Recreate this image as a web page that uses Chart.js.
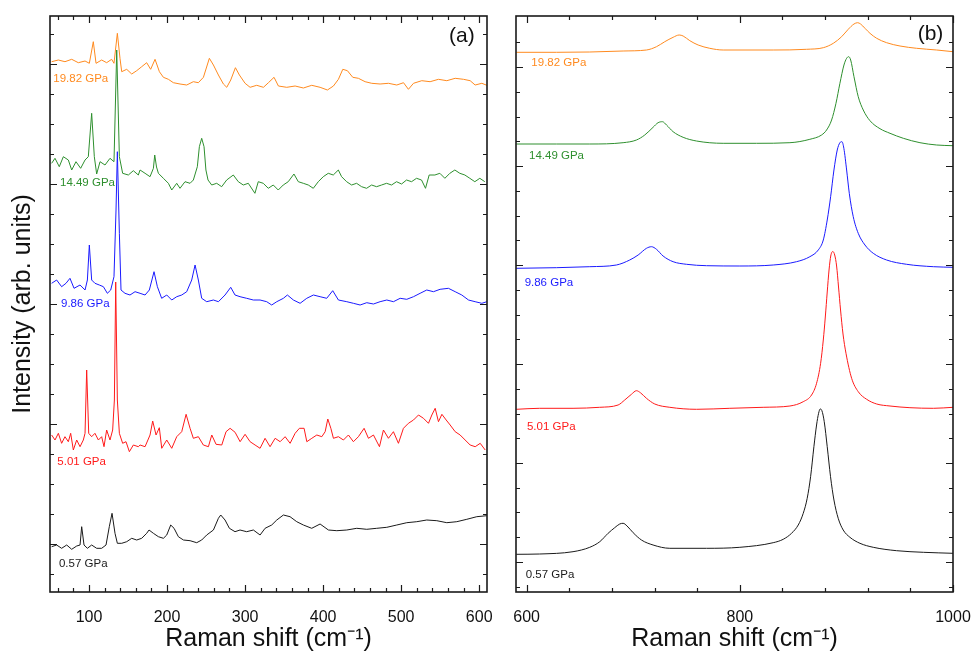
<!DOCTYPE html>
<html>
<head>
<meta charset="utf-8">
<script src="https://cdn.jsdelivr.net/npm/chart.js@4.4.1/dist/chart.umd.min.js"></script>
<style>
  html, body { margin: 0; padding: 0; background: #fff; }
  #wrap { position: relative; width: 974px; height: 655px; }
  canvas { position: absolute; top: 0; }
  #panelA { left: 0; }
  #panelB { left: 490px; }
</style>
</head>
<body>
<div id="wrap">
  <canvas id="panelB" width="484" height="655"></canvas>
  <canvas id="panelA" width="494" height="655"></canvas>
</div>
<script>
// pressures and colours, bottom to top
const pressures = ["0.57 GPa", "5.01 GPa", "9.86 GPa", "14.49 GPa", "19.82 GPa"];
const colors = ["#1a1a1a", "#ff1a1a", "#1a1aff", "#2e8f2e", "#ff8a1f"];

// panel (a): low-frequency region, [Raman shift, stacked intensity]
const a057 = [[52.1,45.3],[58.5,47],[64.9,43.7],[71.4,47],[77.8,42.7],[84.2,46],[88.5,47],[90.6,65.3],[93.6,47],[97.9,43.7],[103.4,47],[109.8,43.7],[116.2,43.7],[121.8,47],[126,65.3],[129.5,78.7],[133.3,58.7],[136.3,48.7],[141.9,48.7],[148.3,50.3],[154.7,53.7],[161.1,52],[167.5,53.7],[173.9,58.7],[176.9,62],[182.5,58.7],[188.9,55.3],[195.3,53.7],[199.6,57],[204.7,67],[209,63.7],[214.5,55.3],[221,52],[229.5,51.3],[238,49.3],[244.4,52],[250.8,57],[259.4,62],[265.8,73.7],[268.8,77],[274.3,72],[279.9,63.7],[287.1,60.3],[293.5,62],[302,60.3],[310.6,62],[319.2,57],[325.6,63.7],[334.1,67],[340.6,72],[349.1,77],[357.6,75.3],[366.2,70.3],[374.7,67],[385.4,63.7],[396.1,68],[406.8,62],[417.5,61.3],[430.3,62],[443.1,63.7],[455.9,62.7],[468.7,63.7],[481.6,64.7],[494.4,67],[507.2,69.3],[520,70.3],[532.8,72],[545.7,71.3],[558.5,69.3],[571.3,70.3],[584.1,72.7],[596.9,75.3],[609.8,76.3]];
const a501 = [[52.1,157],[56.4,152],[60.7,158.7],[64.9,148.7],[69.2,155.3],[73.5,150.3],[76.5,158.7],[79.9,142],[84.2,152],[88.5,145.3],[92.7,152],[94.9,158.7],[97,222],[99.6,158.7],[103.4,155.3],[107.6,158.7],[112,152],[116.2,155.3],[119.2,145.3],[122.6,162],[126.9,152],[130.3,162],[132.5,192],[134.2,310],[136.3,192],[138.9,158.7],[143.1,148.7],[147.4,150.3],[151.7,140.3],[156.8,147],[163.2,145.3],[165.4,147],[171.8,145.3],[178.2,157],[181.6,171],[185.9,157],[190.1,164.3],[193.2,143.7],[199.6,152],[206,143.7],[212.4,155.3],[218.8,160.3],[224.4,177.7],[229.5,163.7],[233.7,153.7],[240.1,155.3],[246.5,147],[253,145.3],[257.3,157],[262.8,147.7],[270.1,147],[275.6,160.3],[280.8,163.7],[287.2,159.7],[293.6,150.3],[300,157.7],[306.4,150.3],[312.8,147],[319.2,143.7],[325.6,153.7],[332,145.3],[338.5,153.7],[344.9,150.3],[351.3,155.3],[357.7,148.7],[364.1,158.7],[369.6,163.7],[375.6,163.7],[379.1,150.3],[385.5,153.7],[391.9,157],[398.3,155.3],[402.6,160.3],[406,173],[409.9,163.7],[413.2,153.7],[419.6,155.3],[426,152],[432.4,157],[438.8,150.3],[445.2,155.3],[452.5,163.7],[458.1,153.7],[464.5,157],[472.2,145.3],[477.3,162],[483.7,153.7],[490.1,160.3],[496.5,148.7],[502.9,163.7],[509.3,168.7],[515.8,172],[522.2,177],[528.6,173.7],[535,168.7],[539.3,177],[543.6,183.7],[547.8,170.3],[552.2,177.7],[557.7,172],[562.8,167],[569.2,160.3],[575.6,157],[582,152],[588.4,147],[594.9,145.3],[601.3,148.7],[607.7,142]];
const a986 = [[52.1,308.7],[58.5,312],[64.9,305.3],[70.5,308.7],[75.6,313.7],[80.8,303.7],[88.5,307],[94.9,302],[97.9,312],[100.4,347],[103.4,312],[107.6,308.7],[113.2,307],[118.4,305.3],[123.5,298.7],[127.8,302],[132,315.3],[134.6,382],[136.3,440.3],[138.9,358.7],[141,302],[146.1,298.7],[152.5,297],[159,300.3],[165.4,298.7],[171.8,297],[177.3,302],[183.3,320.3],[187.6,305.3],[193.1,293.7],[199.6,297],[206,292],[212.4,295.3],[218.8,297],[225.2,300.3],[231.6,312],[235.9,327],[240.1,312],[244.4,293.7],[250.8,290.3],[259.4,292],[265.8,290.3],[274.3,297],[281.6,304.7],[287.1,297],[293.5,295.3],[302,293.7],[310.6,292],[319.2,292],[327.7,290.3],[334.1,287],[340.6,290.3],[349.1,293.7],[354.2,297],[361.9,292],[370.5,288.7],[379,293.7],[387.6,297],[396.1,295.3],[404.6,293.7],[412.3,301.3],[419.6,292],[430.3,290.3],[438.8,288.7],[447.4,287],[455.9,289.3],[464.5,288],[473,290.3],[481.6,292],[490.1,290.3],[498.7,293.7],[507.2,292.7],[515.8,295.3],[524.3,298.7],[532.8,302],[541.4,300.3],[549.9,302.7],[560.6,303.7],[569.2,300.3],[577.7,297],[586.3,292],[594.8,290.3],[603.4,288.7],[609.8,290.3]];
const a1449 = [[52.1,428.7],[56.4,433.7],[61.9,425.3],[67.1,435.3],[73.5,432],[77.8,422],[83.3,430.3],[89.3,423.7],[94.9,432],[99.1,435.3],[103.4,478.7],[106.8,435.3],[109.8,418],[114.1,430.3],[120.5,427],[126.9,433.7],[132,430.3],[135.5,542],[138.9,435.3],[143.1,418.7],[150.4,417],[156.8,421.3],[163.2,417],[165.4,422],[171.8,418.7],[178.2,415.3],[182.5,423.7],[184.2,437],[186.5,425],[188.9,418.7],[195.3,413.7],[201.7,408.7],[206,402],[212.4,408.7],[216.6,403.7],[223,410.3],[229.5,408.7],[233.7,412],[238.8,425.3],[241.4,445.3],[244.4,453.7],[247.4,445.3],[249.8,422],[252.5,412],[257.2,407],[263.6,408.7],[270,405.3],[276.4,412],[284.9,417],[291.3,410.3],[297.7,407],[304.1,408.7],[312.6,398.7],[316.9,410.3],[323.3,408.7],[329.7,403.7],[336.1,407],[342.5,402],[348.9,407],[355.3,410.3],[362.6,418],[368.2,410.3],[374.6,408.7],[381,407],[387.4,403.7],[393.8,410.3],[400.2,415.3],[406.6,418.7],[413,417],[419.5,422],[423.7,415.3],[430.1,410.3],[436.5,407],[442.9,408.7],[449.3,405.3],[455.7,403.7],[462.1,407],[468.5,405.3],[474.9,407],[481.3,408.7],[487.7,407],[494.1,410.3],[500.5,408],[506.9,412],[513.3,410.3],[519.7,413.7],[526.1,412],[531.2,403.7],[535.9,417],[543.2,417],[549.6,418.7],[556,413.7],[562.4,418.7],[568.8,422],[575.2,418.7],[581.6,417],[588,413.7],[594.4,410.3],[600.8,413.7],[607.2,410.3]];
const a1982 = [[52.1,530.3],[60.7,532],[69.2,530.3],[77.8,532.7],[86.3,529.3],[94.9,531],[100.4,528.7],[105.5,550.3],[109,528.7],[116.2,532],[122.6,529.3],[129,532.7],[132,528.7],[136.3,558.7],[139.7,533.7],[141.9,520.3],[148.3,522.7],[154.7,518],[161.1,521.3],[167.5,525.3],[173.9,529.3],[179,522.7],[184.6,532.7],[190.2,520.3],[195.3,514.7],[201.7,512.7],[208.1,509.3],[216.6,508],[225.2,507],[233.7,510.3],[240.1,509.3],[246.6,514.7],[254.2,533.7],[259.4,527],[265.8,517],[272.2,508],[276.5,504.7],[281.6,512],[287.6,524.3],[292.7,517],[300,508.7],[306.4,504.7],[314.9,506.7],[323.5,504.7],[329.9,509.3],[337.1,514.7],[342.7,506],[353.4,504.7],[364.1,506],[374.7,504],[385.4,506.7],[396.1,504.7],[405.5,502],[413.2,506],[419.6,512.7],[425.2,522.7],[431.1,521.3],[438,514.7],[445.2,513.7],[453.8,510.3],[462.3,508.7],[473,508],[483.7,508.7],[494.4,507],[503,509.3],[509.3,502.7],[515.8,508.7],[526.4,511.3],[537.1,510.3],[547.8,512.7],[558.5,511.3],[569.2,513.7],[579.9,512.7],[588.4,511.3],[594.8,507],[603.4,508.7],[609.8,506.7]];

// panel (b): high-frequency region
const b057 = [[590.3,37.7],[612.2,38],[643.5,40.3],[659.2,44.7],[668.6,50.3],[676.4,58.7],[682.6,64.3],[687.3,68],[690.5,68.7],[694.2,66],[699.9,59.3],[707.7,52],[718.6,47],[734.3,43.7],[768.7,43.7],[800,44.7],[831.3,49.3],[840.7,52.7],[848.5,58.7],[854.8,67],[859.5,78.7],[863.2,93.7],[866.4,115.3],[869.5,145.3],[872,167],[873.9,178.7],[875.4,183],[877,181.3],[879.2,170.3],[882,145.3],[885.1,115.3],[888.3,92],[892.3,73.7],[897,62],[903.3,54.7],[912.7,48.7],[925.2,44.7],[947.1,41.3],[972.2,39.7],[1000,38.7]];
const b501 = [[590.3,182.7],[612.2,183.7],[643.5,183.7],[668.5,184.7],[685.8,187],[692,192],[698.3,197.7],[703,201.3],[706.7,199.3],[712.4,193.7],[720.2,188],[734.3,184.7],[759.3,182.7],[790.6,183.7],[821.9,184.7],[847,186],[859.5,190.3],[867.3,197],[872,208.7],[875.8,228.7],[878.3,252],[880.2,275],[882,300],[883.7,322],[885.3,336],[887.2,340.5],[889,337],[890.8,326],[892.6,305],[894.5,282],[896.8,258],[899.6,238.7],[904.9,213.7],[911.1,200.3],[919,192.7],[928.4,188],[940.9,186],[959.6,184.3],[981.6,183.7],[1000,184.7]];
const b986 = [[590.3,323.7],[627.9,324.3],[659.2,325.3],[684.2,327],[696.7,332],[704.6,337],[712.4,343.7],[717.1,345.3],[721.8,342.7],[728,336],[737.4,330.3],[750,327.7],[768.7,326.3],[800,326],[831.3,327],[853.2,330.3],[865.7,335.3],[873.6,342],[878.3,352],[882,372],[885.2,395.3],[888.3,422],[891.4,442],[893.9,449.3],[895.8,450.3],[897.6,443.7],[900.2,422],[902.7,398.7],[906.4,375.3],[911.1,358.7],[917.4,347],[925.2,338.7],[937.7,332],[956.5,327.7],[981.6,325.3],[1000,324.7]];
const b1449 = [[590.3,448],[627.9,448],[659.2,448],[690.5,449.3],[703,452],[710.8,457],[718.6,464.7],[723.3,469.3],[727.4,470.3],[731.2,467],[737.4,460.3],[746.8,454.7],[759.3,451],[784.4,448.7],[815.7,448.7],[847,449.3],[865.7,452.7],[876.7,457],[881.4,462],[886.1,472],[890.2,488.7],[893.9,508.7],[897.7,527],[900.2,533.7],[902.1,535.3],[904,532],[907.1,515.3],[911.1,495.3],[915.8,482],[922.1,471.3],[931.5,463.3],[940.9,458.7],[953.4,453.7],[969,449.3],[984.7,447],[1000,446.3]];
const b1982 = [[590.3,539.7],[627.9,539.7],[659.2,540],[690.5,541],[712.4,542],[721.8,545.3],[729.6,550.3],[737.4,554.7],[743.1,557],[746.8,556],[753.1,551.3],[760.9,547],[771.8,543.7],[784.4,542],[831.3,542],[862.6,542.7],[878.3,544.3],[887.7,548.7],[895.5,555.3],[901.7,562.7],[907.1,568],[910.5,569.3],[913.3,568],[917.4,563.7],[922.1,558.7],[928.4,553.7],[937.7,549.3],[950.3,546],[965.9,543.7],[984.7,542],[1000,540.3]];

// tick labels
const xTicksA = [100, 200, 300, 400, 500, 600];
const xTicksB = [600, 800, 1000];

// label anchors (data coords of the left end of each pressure label)
const labelPosA = [[61.5,27.7],[59.4,130.3],[64.1,288],[62.8,408.7],[54.2,512.7]];
const labelPosB = [[599.1,17],[600.3,165.3],[598.1,309.3],[602.2,436],[604.4,528.7]];

const FONT = "'Liberation Sans', Arial, sans-serif";
Chart.defaults.font.family = FONT;
Chart.defaults.color = "#111";

function range(start, stop, step) {
  const out = [];
  for (let v = start; v <= stop + 1e-6; v += step) out.push(+v.toFixed(3));
  return out;
}

// inward ticks on all four sides + frame
const frameTicks = {
  id: "frameTicks",
  afterDraw(chart, args, o) {
    const { ctx, chartArea: a, scales: { x, y } } = chart;
    ctx.save();
    ctx.strokeStyle = "#1a1a1a";
    ctx.lineWidth = 1.2;
    ctx.beginPath();
    o.xMinor.forEach((v) => {
      const p = Math.round(x.getPixelForValue(v)) + 0.5;
      const len = o.xMajor.includes(v) ? 7 : 4;
      ctx.moveTo(p, a.bottom); ctx.lineTo(p, a.bottom - len);
      ctx.moveTo(p, a.top); ctx.lineTo(p, a.top + len);
    });
    o.yMinor.forEach((v, i) => {
      const p = Math.round(y.getPixelForValue(v)) + 0.5;
      const len = i % 4 === 1 ? 7 : 4;
      ctx.moveTo(a.left, p); ctx.lineTo(a.left + len, p);
      ctx.moveTo(a.right, p); ctx.lineTo(a.right - len, p);
    });
    ctx.stroke();
    ctx.lineWidth = 1.6;
    ctx.strokeRect(a.left, a.top, a.right - a.left, a.bottom - a.top);
    ctx.restore();
  },
};

// pressure labels and panel letter
const seriesLabels = {
  id: "seriesLabels",
  afterDatasetsDraw(chart, args, o) {
    const { ctx, scales: { x, y } } = chart;
    ctx.save();
    ctx.textBaseline = "middle";
    ctx.textAlign = "left";
    ctx.font = "11.5px " + FONT;
    o.pos.forEach((p, i) => {
      ctx.fillStyle = colors[i];
      ctx.fillText(pressures[i], x.getPixelForValue(p[0]), y.getPixelForValue(p[1]));
    });
    ctx.fillStyle = "#111";
    ctx.textAlign = "center";
    ctx.font = "21px " + FONT;
    ctx.fillText(o.letter[0], x.getPixelForValue(o.letter[1]), y.getPixelForValue(o.letter[2]));
    ctx.restore();
  },
};

function makePanel(id, series, cfg) {
  new Chart(document.getElementById(id), {
    type: "line",
    data: {
      datasets: series.map((s, i) => ({
        label: pressures[i],
        data: s.map(([x, y]) => ({ x, y })),
        borderColor: colors[i],
        borderWidth: 1,
        pointRadius: 0,
        tension: 0,
        cubicInterpolationMode: cfg.smooth ? "monotone" : "default",
        fill: false,
      })),
    },
    options: {
      responsive: false,
      animation: false,
      devicePixelRatio: 1,
      layout: { padding: cfg.padding },
      plugins: {
        legend: { display: false },
        tooltip: { enabled: false },
        frameTicks: cfg.ticks,
        seriesLabels: { pos: cfg.labelPos, letter: cfg.letter },
      },
      scales: {
        x: {
          type: "linear",
          min: cfg.xMin,
          max: cfg.xMax,
          grid: { display: false },
          border: { display: false },
          afterBuildTicks: (s) => { s.ticks = cfg.xTicks.map((v) => ({ value: v })); },
          afterFit: (s) => { s.height = 63; s.paddingLeft = 0; s.paddingRight = 0; },
          ticks: {
            font: { size: 16 }, padding: 8, maxRotation: 0, autoSkip: false, color: "#111",
            callback: (v) => String(v),
          },
          title: {
            display: true,
            text: "Raman shift (cm\u207B\u00B9)",
            font: { size: 25 },
            color: "#111",
            padding: { top: 0, bottom: 1 },
          },
        },
        y: {
          min: 0,
          max: 576,
          grid: { display: false },
          border: { display: false },
          ticks: { display: false },
          afterFit: (s) => { s.width = cfg.yWidth; s.paddingTop = 0; s.paddingBottom = 0; },
          title: {
            display: cfg.yTitle,
            text: "Intensity (arb. units)",
            font: { size: 25 },
            color: "#111",
            padding: { top: 8, bottom: 0 },
          },
        },
      },
    },
    plugins: [frameTicks, seriesLabels],
  });
}

makePanel("panelA", [a057, a501, a986, a1449, a1982], {
  padding: { top: 16, right: 7, left: 0, bottom: 0 },
  xMin: 50, xMax: 610, xTicks: xTicksA, yWidth: 50, yTitle: true, smooth: false,
  labelPos: labelPosA, letter: ["(a)", 577.8, 555.3],
  ticks: {
    xMinor: range(60, 600, 20), xMajor: xTicksA,
    yMinor: range(18, 558, 30),
  },
});

makePanel("panelB", [b057, b501, b986, b1449, b1982], {
  padding: { top: 16, right: 21, left: 0, bottom: 0 },
  xMin: 590, xMax: 1000, xTicks: xTicksB, yWidth: 26, yTitle: false, smooth: true,
  labelPos: labelPosB, letter: ["(b)", 978.9, 558],
  ticks: {
    xMinor: range(600, 1000, 40), xMajor: xTicksB,
    yMinor: range(5.3, 550, 24.74),
  },
});
</script>
</body>
</html>
